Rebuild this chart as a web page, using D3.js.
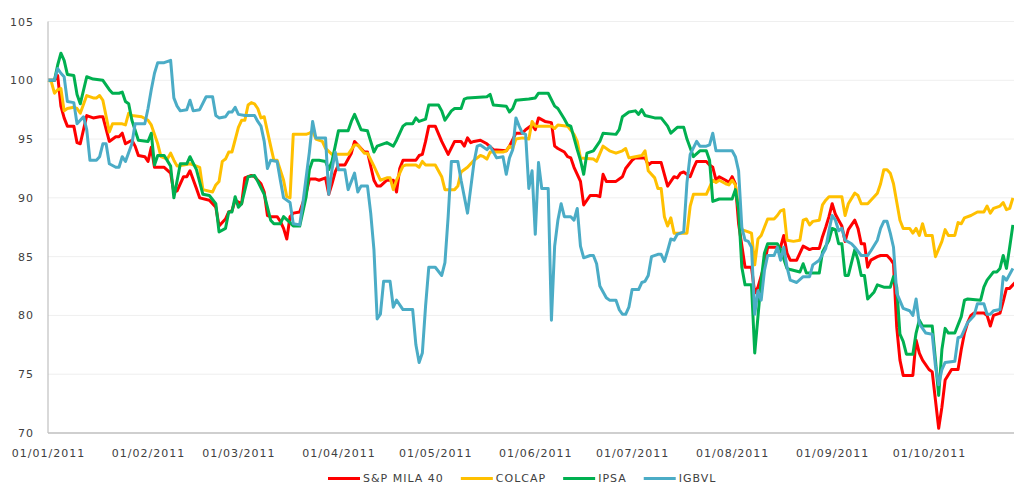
<!DOCTYPE html>
<html>
<head>
<meta charset="utf-8">
<script src="https://d3js.org/d3.v7.min.js"></script>
<style>
    body { margin: 0; background: #fff; }
    text { font-family: "DejaVu Sans", Verdana, sans-serif; font-size: 11px; fill: #404040; letter-spacing: 1px; }
</style>
</head>
<body>
<svg id="chart"></svg>
<script>
    // [days since 01/01/2011, index value]
    var mila = [[0,100],[2,100],[3,100.4],[4,97.8],[5,96.8],[6,96.1],[8,96.1],[9,94.7],[10,94.6],[12,97.0],[14,96.8],[16,96.9],[17,96.9],[19,94.8],[21,95.2],[22,95.2],[23,95.5],[24,94.6],[26,94.9],[27,94.4],[28,93.6],[30,93.5],[31,93.1],[32,94.3],[33,92.6],[36,92.6],[38,92.1],[39,90.5],[40,90.6],[42,91.8],[43,91.8],[44,92.3],[46,90.8],[47,90.0],[50,89.8],[52,89.2],[53,87.6],[55,88.2],[56,88.8],[57,88.9],[58,89.8],[60,89.5],[61,91.7],[63,91.9],[64,91.8],[66,91.2],[67,90.5],[68,88.5],[69,88.4],[71,88.4],[72,88.0],[73,87.4],[74,86.5],[75,88.4],[76,88.7],[78,88.8],[80,90.4],[81,91.6],[83,91.6],[84,91.5],[86,91.7],[87,90.3],[88,91.2],[89,92.2],[90,92.8],[92,92.8],[94,93.8],[95,94.8],[97,94.2],[98,93.9],[99,93.9],[101,91.5],[102,91.0],[103,91.0],[105,91.5],[107,91.5],[108,90.5],[109,92.5],[110,93.2],[114,93.2],[115,93.6],[116,93.7],[117,94.8],[118,96.1],[120,96.1],[122,94.8],[124,93.7],[126,94.8],[128,94.8],[129,94.4],[130,95.1],[131,94.7],[132,94.8],[134,94.9],[136,94.6],[138,94.1],[142,94.0],[143,94.4],[145,95.5],[147,95.5],[148,95.8],[150,96.2],[151,95.8],[152,96.8],[154,96.5],[156,96.4],[157,94.4],[158,94.2],[160,93.9],[161,93.5],[162,93.4],[163,92.6],[165,91.4],[166,89.4],[168,90.2],[170,90.2],[171,90.1],[172,92.0],[173,91.4],[176,91.4],[178,91.8],[179,92.5],[181,93.2],[182,93.4],[185,93.4],[186,92.8],[187,93.0],[190,93.0],[191,92.0],[192,91.0],[194,91.8],[195,91.7],[196,92.1],[197,92.2],[199,91.8],[200,92.5],[201,93.1],[204,93.1],[205,92.8],[206,92.6],[207,91.5],[208,91.8],[210,91.5],[211,91.3],[212,91.8],[213,91.2],[214,87.8],[216,84.1],[218,84.1],[219,81.9],[220,82.4],[222,84.3],[223,85.8],[227,85.8],[228,86.8],[229,85.3],[230,84.7],[232,84.7],[234,85.9],[236,85.6],[237,85.7],[239,85.7],[240,86.7],[241,87.5],[242,88.4],[243,89.5],[244,88.6],[245,88.1],[246,87.6],[247,86.3],[248,87.3],[250,88.1],[251,87.4],[252,86.1],[253,86.1],[254,84.1],[255,84.7],[257,85.0],[258,85.1],[260,85.1],[261,84.8],[262,84.4],[263,79.0],[264,76.2],[265,74.9],[268,74.9],[269,77.9],[270,76.8],[271,76.2],[273,75.4],[274,75.2],[275,72.8],[276,70.4],[277,72.2],[278,74.5],[280,75.4],[282,75.4],[283,77.1],[284,78.5],[285,79.4],[286,80.0],[287,80.2],[290,80.2],[291,80.0],[292,79.1],[293,80.0],[295,80.2],[296,81.2],[297,82.3],[298,82.3],[299,82.6],[300,82.9]];

    var colcap = [[0,100],[1,99.9],[2,98.9],[3,99.2],[4,99.3],[5,97.4],[6,97.6],[8,97.7],[9,97.6],[10,97.2],[12,98.7],[14,98.5],[15,98.5],[16,98.7],[17,98.3],[19,95.6],[20,96.3],[23,96.3],[24,96.2],[25,97.2],[26,97.0],[29,96.9],[31,96.6],[32,96.2],[34,94.6],[35,93.5],[37,93.3],[38,93.8],[39,93.2],[40,92.7],[42,92.8],[44,92.9],[45,92.8],[47,92.6],[48,90.7],[51,90.5],[52,91.1],[53,91.4],[54,93.1],[55,93.3],[56,93.9],[57,93.9],[59,96.0],[60,96.6],[61,96.6],[62,97.9],[63,98.1],[64,98.0],[65,97.6],[66,96.8],[67,96.9],[69,94.4],[70,93.2],[71,93.2],[73,91.5],[74,90.1],[75,90.0],[76,95.4],[80,95.4],[81,95.5],[82,95.7],[83,95.0],[85,94.8],[86,94.2],[88,93.7],[93,93.7],[95,94.5],[96,94.5],[98,93.8],[99,93.8],[101,92.7],[102,92.1],[103,91.5],[105,91.7],[106,91.7],[107,90.7],[108,91.5],[110,92.7],[111,92.8],[114,92.8],[115,92.6],[116,93.1],[117,92.8],[120,92.8],[122,91.8],[123,90.7],[126,90.7],[127,91.0],[128,92.2],[130,92.6],[132,93.2],[134,93.6],[135,93.5],[136,93.3],[137,93.9],[141,93.9],[142,94.0],[143,94.4],[144,94.2],[145,95.0],[147,95.1],[149,95.0],[150,96.5],[151,96.1],[156,96.1],[157,95.9],[158,96.2],[161,96.1],[163,95.4],[164,94.8],[165,93.4],[169,93.3],[170,93.1],[172,94.4],[174,94.0],[176,93.8],[178,94.0],[179,94.2],[180,93.4],[182,93.5],[184,93.6],[185,94.0],[186,92.3],[188,91.7],[189,90.8],[190,90.8],[191,88.4],[192,87.6],[193,88.3],[194,87.0],[198,87.0],[199,89.3],[200,90.3],[204,90.3],[206,91.5],[207,91.3],[208,91.5],[210,91.2],[211,91.1],[212,91.5],[213,91.1],[214,89.2],[215,87.3],[217,87.1],[218,87.0],[219,84.3],[220,86.5],[221,86.8],[223,88.2],[225,88.2],[226,88.5],[227,88.9],[228,89.0],[229,86.4],[231,86.3],[233,86.4],[234,88.1],[235,88.2],[236,87.7],[237,88.0],[239,88.1],[240,89.4],[241,89.8],[242,90.1],[246,90.1],[247,88.5],[248,89.5],[250,90.4],[251,90.2],[252,89.5],[254,89.5],[255,89.8],[257,90.4],[258,91.2],[259,92.4],[260,92.4],[261,92.1],[262,91.2],[264,88.1],[265,87.4],[267,87.4],[268,87.0],[269,87.4],[270,86.8],[271,87.8],[272,86.8],[274,86.8],[275,85.0],[277,86.3],[278,87.3],[279,86.8],[281,86.8],[282,87.9],[283,87.8],[284,88.3],[286,88.5],[288,88.8],[290,88.8],[291,89.3],[292,88.7],[293,89.1],[295,89.3],[296,89.6],[297,89.0],[298,89.1],[299,90.0]];

    var ipsa = [[0,100],[2,100],[3,101.3],[4,102.3],[5,101.7],[6,100.5],[8,100.4],[9,98.8],[10,98.0],[12,100.3],[14,100.1],[17,100.0],[19,99.2],[20,98.9],[22,98.9],[23,99.0],[24,98.2],[25,98.0],[26,96.6],[28,94.9],[31,94.8],[32,95.5],[33,92.8],[34,93.6],[36,93.6],[38,92.7],[39,90.0],[41,92.9],[43,92.9],[44,93.5],[46,92.4],[48,90.3],[50,90.2],[52,89.5],[53,87.1],[55,87.4],[56,88.8],[57,88.8],[58,90.1],[59,89.2],[60,89.5],[62,91.8],[64,91.9],[65,91.4],[67,90.3],[69,88.1],[70,87.8],[72,87.8],[73,88.4],[75,87.9],[76,87.6],[78,87.6],[80,90.1],[81,92.4],[82,93.2],[84,93.2],[86,93.1],[87,92.4],[88,93.1],[90,95.7],[93,95.7],[94,96.5],[95,97.1],[97,95.8],[99,95.7],[100,94.8],[101,93.9],[102,94.4],[105,94.7],[107,94.4],[108,94.9],[110,96.1],[111,96.3],[113,96.3],[114,96.8],[115,96.5],[117,96.7],[118,97.9],[121,97.9],[122,97.4],[123,96.6],[125,97.4],[126,97.6],[128,97.6],[129,98.4],[130,98.5],[136,98.6],[137,98.8],[138,97.9],[142,97.8],[143,97.3],[144,97.6],[145,98.3],[149,98.4],[151,98.5],[152,98.9],[155,98.9],[157,97.8],[158,97.6],[160,96.7],[161,96.2],[162,96.1],[164,94.1],[165,93.2],[166,92.0],[167,93.8],[169,94.0],[171,94.8],[172,95.5],[176,95.4],[177,95.8],[178,96.9],[180,97.3],[182,97.4],[183,97.1],[184,97.5],[185,97.0],[188,96.8],[190,96.8],[192,96.1],[193,95.5],[195,96.0],[197,96.0],[198,95.0],[200,93.5],[202,94.0],[204,94.0],[205,93.2],[206,89.7],[208,89.9],[212,89.9],[213,90.7],[214,89.0],[215,84.1],[216,82.6],[218,82.6],[219,76.8],[221,83.0],[222,85.3],[223,86.1],[226,86.1],[227,85.6],[229,84.0],[230,83.9],[233,83.7],[234,84.4],[235,83.6],[239,83.6],[240,85.4],[242,86.4],[243,87.4],[244,87.3],[245,86.1],[246,86.1],[247,83.4],[248,83.4],[250,85.6],[251,84.7],[252,83.4],[253,83.4],[254,81.4],[256,82.0],[257,82.6],[259,82.4],[261,82.4],[262,83.3],[263,82.4],[264,78.4],[265,77.8],[266,76.7],[268,76.7],[269,78.5],[270,79.6],[271,79.1],[274,79.1],[275,76.2],[276,73.2],[277,77.1],[278,78.9],[279,78.5],[281,78.5],[283,79.9],[284,81.3],[285,81.4],[289,81.3],[290,82.4],[291,83.0],[293,83.7],[294,83.7],[295,84.0],[296,85.1],[297,84.0],[298,85.8],[299,87.7]];

    var igbvl = [[0,100],[2,100],[3,101.0],[4,100.6],[5,100.3],[6,98.2],[8,98.1],[9,96.3],[11,96.9],[12,95.8],[13,93.2],[15,93.2],[16,93.5],[17,94.6],[18,94.6],[19,92.9],[21,92.6],[22,92.6],[23,93.5],[24,93.1],[26,94.6],[27,96.3],[30,96.3],[31,97.6],[32,99.2],[33,100.6],[34,101.5],[36,101.5],[38,101.7],[39,98.5],[40,97.8],[41,97.4],[43,97.5],[44,98.3],[45,97.4],[47,97.5],[49,98.6],[51,98.6],[52,97.0],[53,96.8],[55,96.9],[56,97.3],[57,97.3],[58,97.7],[59,97.1],[61,97.0],[64,97.0],[65,96.5],[66,96.1],[67,94.8],[68,92.5],[69,93.2],[71,93.1],[72,91.5],[73,90.0],[75,89.6],[76,87.8],[78,87.7],[79,89.6],[81,93.9],[82,96.5],[83,95.1],[86,95.1],[87,90.3],[88,92.4],[89,93.9],[90,92.4],[92,92.4],[93,90.7],[95,92.1],[96,90.5],[97,91.0],[99,91.0],[100,88.7],[101,85.6],[102,79.7],[103,80.1],[104,82.9],[106,82.9],[107,80.7],[108,81.3],[110,80.5],[113,80.5],[114,77.5],[115,76.0],[116,76.8],[117,80.8],[118,84.1],[120,84.1],[122,83.4],[123,84.5],[124,88.4],[125,93.1],[127,93.1],[128,91.5],[130,88.7],[132,93.0],[133,94.4],[134,94.5],[136,94.1],[137,94.4],[139,93.4],[141,93.5],[142,92.0],[143,93.4],[144,94.1],[145,96.8],[146,96.1],[147,95.5],[148,95.4],[149,90.8],[150,92.3],[151,86.9],[152,93.0],[153,90.8],[155,90.8],[156,79.6],[157,85.9],[158,88.1],[159,89.5],[160,88.4],[162,88.4],[163,88.1],[164,89.1],[165,85.9],[166,84.9],[168,85.1],[169,85.1],[170,84.4],[171,82.5],[173,81.5],[174,81.3],[176,81.3],[177,80.5],[178,80.1],[179,80.1],[180,80.7],[181,82.2],[183,82.2],[184,82.8],[185,82.9],[186,83.4],[187,85.0],[189,85.2],[190,85.2],[191,84.6],[192,85.5],[193,86.5],[194,86.4],[195,86.9],[197,87.1],[198,91.3],[199,93.7],[201,94.8],[202,94.4],[204,94.4],[205,94.5],[206,95.5],[207,94.0],[209,94.0],[212,94.0],[213,93.5],[214,92.3],[215,87.5],[216,86.4],[217,86.3],[218,85.8],[219,80.1],[220,82.1],[221,81.3],[222,83.8],[223,85.1],[225,85.1],[226,85.8],[227,84.7],[228,85.8],[229,84.1],[230,83.0],[232,82.8],[234,83.3],[236,83.3],[237,84.3],[239,84.7],[241,85.7],[242,87.2],[243,88.5],[244,88.1],[245,87.2],[246,87.4],[247,86.4],[249,86.1],[250,85.8],[252,85.1],[254,85.1],[255,85.5],[257,86.4],[258,87.4],[259,88.0],[260,88.0],[261,87.0],[262,85.8],[263,81.9],[265,80.6],[267,80.4],[268,80.0],[269,81.4],[270,79.3],[272,78.5],[274,78.4],[275,75.7],[276,74.1],[277,75.4],[278,76.0],[281,76.1],[282,78.1],[283,78.2],[285,79.4],[287,80.0],[288,81.0],[290,81.0],[291,80.1],[292,80.1],[293,80.4],[295,80.5],[296,83.3],[297,83.0],[299,84.0]];

    var seriesNames = ["S&P MILA 40", "COLCAP", "IPSA", "IGBVL"];
    var seriesColors = ["#ff0000", "#ffc000", "#00b050", "#4bacc6"];
    var seriesData = [mila, colcap, ipsa, igbvl];
    var yTicks = [70, 75, 80, 85, 90, 95, 100, 105];

    var Width = 1014, Height = 486;
    var Left = 48, Bottom = 433, Top = 21.5;
    var start = new Date(Date.UTC(2011, 0, 1));
    var oct1 = new Date(Date.UTC(2011, 9, 1));

    var svg = d3.select("#chart")
        .attr("width", Width)
        .attr("height", Height);

    var x = d3.scaleUtc().domain([start, oct1]).range([Left, 929]);
    var y = d3.scaleLinear().domain([70, 105]).range([Bottom, Top]);

    // faint gridlines
    svg.append("g").selectAll("line")
        .data(yTicks.slice(1))
        .enter().append("line")
            .attr("x1", Left).attr("x2", Width)
            .attr("y1", function(d) { return y(d); })
            .attr("y2", function(d) { return y(d); })
            .attr("stroke", "#efefef").attr("stroke-width", 1);

    // y labels
    svg.append("g").selectAll("text")
        .data(yTicks)
        .enter().append("text")
            .attr("x", 34)
            .attr("y", function(d) { return y(d) + 4; })
            .attr("text-anchor", "end")
            .text(function(d) { return d; });

    // x labels, first of every month
    var months = d3.utcMonth.range(start, d3.utcDay.offset(oct1, 1));
    var fmt = d3.utcFormat("%d/%m/%Y");
    svg.append("g").selectAll("text")
        .data(months)
        .enter().append("text")
            .attr("x", function(d) { return x(d) + 0.5; })
            .attr("y", 457)
            .attr("text-anchor", "middle")
            .text(function(d) { return fmt(d); });

    // series
    var line = d3.line()
        .x(function(d) { return x(d3.utcDay.offset(start, d[0])); })
        .y(function(d) { return y(d[1]); });

    svg.append("g").selectAll("path")
        .data(seriesData)
        .enter().append("path")
            .attr("d", line)
            .attr("fill", "none")
            .attr("stroke", function(d, i) { return seriesColors[i]; })
            .attr("stroke-width", 3)
            .attr("stroke-linejoin", "round");

    // axes lines
    svg.append("line")
        .attr("x1", Left).attr("x2", Left)
        .attr("y1", Top).attr("y2", Bottom)
        .attr("stroke", "#b3b3b3").attr("stroke-width", 1);
    svg.append("line")
        .attr("x1", Left).attr("x2", Width)
        .attr("y1", Bottom).attr("y2", Bottom)
        .attr("stroke", "#bfbfbf").attr("stroke-width", 1.5);

    // legend
    var legend = svg.append("g");
    var lx = 328, ly = 482;
    seriesNames.forEach(function(name, i) {
        legend.append("line")
            .attr("x1", lx).attr("x2", lx + 32)
            .attr("y1", ly - 3.5).attr("y2", ly - 3.5)
            .attr("stroke", seriesColors[i]).attr("stroke-width", 3);
        var t = legend.append("text")
            .attr("x", lx + 35).attr("y", ly)
            .text(name);
        lx += 35 + t.node().getComputedTextLength() + 17;
    });
</script>
</body>
</html>
